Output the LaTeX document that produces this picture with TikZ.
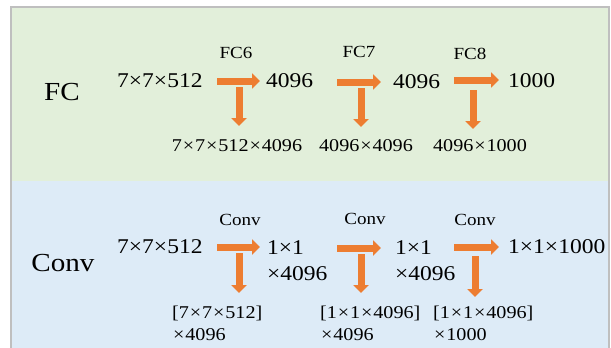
\documentclass[tikz,border=0pt]{standalone}
\usepackage{fontspec}
\setmainfont[FakeStretch=1.12]{Liberation Serif}
\usetikzlibrary{arrows.meta}
\definecolor{panelgreen}{HTML}{E2EFDA}
\definecolor{panelblue}{HTML}{DDEBF7}
\definecolor{framegray}{HTML}{BFBFBF}
\definecolor{arroworange}{HTML}{ED7D31}
% multiplication sign with a little extra room, for the weight sizes
\newcommand\wx{\kern0.9pt×\kern0.9pt}
\tikzset{
  flow/.style={line width=7pt, arroworange, -{Triangle[length=8pt,width=15pt]}},
  rowlabel/.style={font=\fontsize{26}{30}\selectfont, inner sep=0pt},
  dims/.style={font=\fontsize{21}{26}\selectfont, inner sep=0pt, anchor=west},
  layer/.style={font=\fontsize{17}{20}\selectfont, inner sep=0pt},
  weight/.style={font=\fontsize{18}{21}\selectfont, inner sep=0pt},
  weightblock/.style={font=\fontsize{18}{21.5}\selectfont, inner sep=0pt, anchor=north west, align=left},
  twoline/.style={font=\fontsize{21}{26}\selectfont, inner sep=0pt, anchor=north west, align=left}
}
\begin{document}
\begin{tikzpicture}[x=1pt, y=-1pt]
\useasboundingbox (0,0) rectangle (611,348);
% panels
\fill[white] (0,0) rectangle (611,348);
\fill[panelgreen] (11,7) rectangle (609,181);
\fill[panelblue] (11,181) rectangle (609,348);
\draw[framegray, line width=2pt] (11,348) -- (11,7) -- (609,7) -- (609,348);

% ---------- fully connected row ----------
\node[rowlabel] (fc) at (62,92) {FC};
\node[dims] (fcin) at (117,81) {7×7×512};
\node[dims] (fc6out) at (266,81) {4096};
\node[dims] (fc7out) at (393,81.5) {4096};
\node[dims] (fc8out) at (508,80.5) {1000};
\node[layer] (fc6) at (236,53) {FC6};
\node[layer] (fc7) at (359,52) {FC7};
\node[layer] (fc8) at (470,54) {FC8};
\node[weight] (fc6w) at (237,146) {7\wx7\wx512\wx4096};
\node[weight] (fc7w) at (366,146) {4096\wx4096};
\node[weight] (fc8w) at (480,146) {4096\wx1000};

\coordinate (a1s) at (217,81);  \coordinate (a1e) at (260,81);
\coordinate (a2s) at (337,82);  \coordinate (a2e) at (381,82);
\coordinate (a3s) at (454,80);  \coordinate (a3e) at (499,80);
\coordinate (d1s) at (239,87);  \coordinate (d1e) at (239,126);
\coordinate (d2s) at (361,88);  \coordinate (d2e) at (361,127);
\coordinate (d3s) at (473,90);  \coordinate (d3e) at (473,129);
\draw[flow] (a1s) -- (a1e);
\draw[flow] (a2s) -- (a2e);
\draw[flow] (a3s) -- (a3e);
\draw[flow] (d1s) -- (d1e);
\draw[flow] (d2s) -- (d2e);
\draw[flow] (d3s) -- (d3e);

% ---------- convolutional row ----------
\node[rowlabel] (cv) at (63,263) {Conv};
\node[dims] (cvin) at (117,247) {7×7×512};
\node[twoline] (cv1out) at (267,240) {1×1\\×4096};
\node[twoline] (cv2out) at (395,240) {1×1\\×4096};
\node[dims] (cv3out) at (508,247) {1×1×1000};
\node[layer] (cv1) at (240,220) {Conv};
\node[layer] (cv2) at (365,219) {Conv};
\node[layer] (cv3) at (475,220) {Conv};
\node[weightblock] (cv1w) at (172,306) {[7\wx7\wx512]\\\wx4096};
\node[weightblock] (cv2w) at (320,306) {[1\wx1\wx4096]\\\wx4096};
\node[weightblock] (cv3w) at (433,306) {[1\wx1\wx4096]\\\wx1000};

\coordinate (b1s) at (217,247); \coordinate (b1e) at (260,247);
\coordinate (b2s) at (337,248); \coordinate (b2e) at (381,248);
\coordinate (b3s) at (454,247); \coordinate (b3e) at (499,247);
\coordinate (e1s) at (239,253); \coordinate (e1e) at (239,293);
\coordinate (e2s) at (361,254); \coordinate (e2e) at (361,293);
\coordinate (e3s) at (475,256); \coordinate (e3e) at (475,297);
\draw[flow] (b1s) -- (b1e);
\draw[flow] (b2s) -- (b2e);
\draw[flow] (b3s) -- (b3e);
\draw[flow] (e1s) -- (e1e);
\draw[flow] (e2s) -- (e2e);
\draw[flow] (e3s) -- (e3e);
\end{tikzpicture}
\end{document}
